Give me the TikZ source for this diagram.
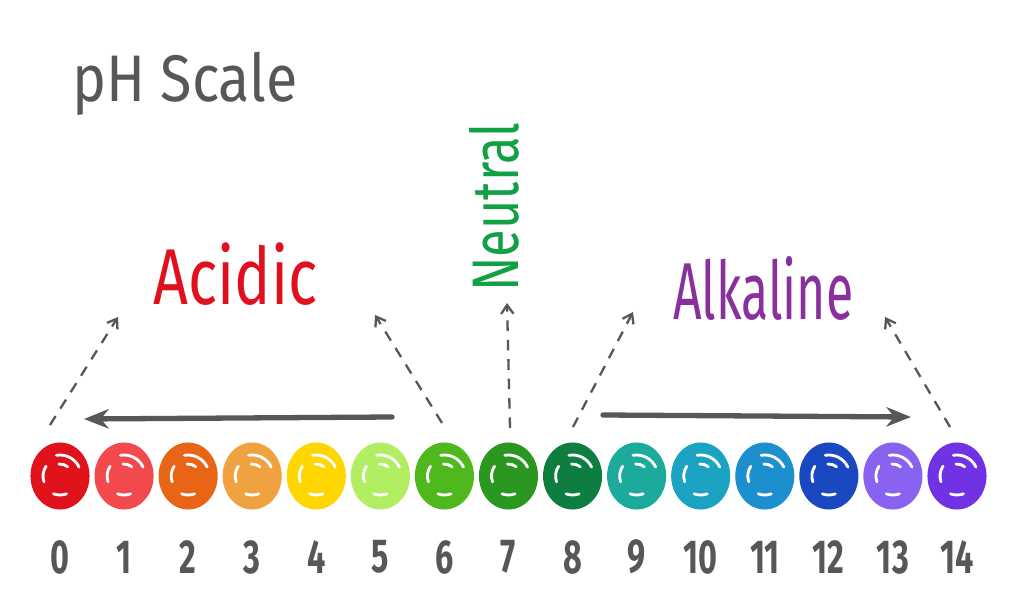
\documentclass[tikz,border=0pt]{standalone}
\usepackage{fontspec}
\setmainfont{Fira Sans}
\usetikzlibrary{arrows.meta,shapes.geometric}
\definecolor{ink}{HTML}{575757}
\definecolor{acid}{HTML}{E0101E}
\definecolor{alka}{HTML}{88309C}
\definecolor{neut}{HTML}{12A044}
\definecolor{ph0}{HTML}{E0121C}
\definecolor{ph1}{HTML}{F24A4C}
\definecolor{ph2}{HTML}{E86416}
\definecolor{ph3}{HTML}{F0A240}
\definecolor{ph4}{HTML}{FFD600}
\definecolor{ph5}{HTML}{B2EE62}
\definecolor{ph6}{HTML}{4EB81C}
\definecolor{ph7}{HTML}{2A9820}
\definecolor{ph8}{HTML}{0E7E40}
\definecolor{ph9}{HTML}{1CAA9C}
\definecolor{ph10}{HTML}{1CA2C2}
\definecolor{ph11}{HTML}{1C90CE}
\definecolor{ph12}{HTML}{1A48C0}
\definecolor{ph13}{HTML}{8A62F0}
\definecolor{ph14}{HTML}{7032E2}
\begin{document}
\begin{tikzpicture}[x=0.5669pt,y=-0.5669pt,
  drop/.style={ellipse, draw=none, minimum width=33.5pt, minimum height=38pt, inner sep=0pt},
  num/.style={text=ink, inner sep=0pt, font=\fontsize{27}{29}\selectfont\bfseries},
  shine/.style={white, line width=1.6pt, line cap=round},
  dasharrow/.style={ink, line width=1.3pt, dash pattern=on 6pt off 5pt, -{Straight Barb[length=5pt,width=7pt]}},
  bigarrow/.style={ink, line width=3pt, line cap=round, -{Stealth[length=14pt,width=11pt]}},
  label/.style={inner sep=0pt, anchor=base west}
]
\useasboundingbox (0,0) rectangle (1024,614);
\fill[white] (0,0) rectangle (1024,614);
% drops and numbers
\foreach \i in {0,...,14} {
  \node[drop, fill=ph\i] (c\i) at ({60+64.07*\i},476) {};
  \node[num] (n\i) at ({60+64.07*\i},557) {\scalebox{0.68}[1]{\i}};
  \draw[shine] (c\i.center) ++(-100:21) arc[start angle=-100, end angle=-25, radius=21];
  \draw[shine] (c\i.center) ++(-95:12) arc[start angle=-95, end angle=-50, radius=12];
  \draw[shine] (c\i.center) ++(160:17) arc[start angle=160, end angle=215, radius=17];
  \draw[shine] (c\i.center) ++(70:19) arc[start angle=70, end angle=110, radius=19];
}
% title and labels
\node[label, text=ink] (title) at (72,102) {\resizebox{127.6pt}{28pt}{pH Scale}};
\node[label, text=acid] (acidic) at (153,305) {\resizebox{93pt}{35pt}{Acidic}};
\node[label, text=alka] (alkaline) at (673,320) {\resizebox{102pt}{35.7pt}{Alkaline}};
\node[label, text=neut, rotate=90] (neutral) at (518,292) {\resizebox{96pt}{28pt}{Neutral}};
% arrow end points
\coordinate (a0s) at (50,425);   \coordinate (a0e) at (118,317);
\coordinate (a6s) at (442,423);  \coordinate (a6e) at (375,315);
\coordinate (a7s) at (510,428);  \coordinate (a7e) at (507,303);
\coordinate (a8s) at (573,427);  \coordinate (a8e) at (633,312);
\coordinate (a14s) at (950,427); \coordinate (a14e) at (885,317);
\coordinate (acS) at (392,417);  \coordinate (acE) at (84,419);
\coordinate (alS) at (603,415);  \coordinate (alE) at (911,417);
\draw[dasharrow] (a0s) -- (a0e);
\draw[dasharrow] (a6s) -- (a6e);
\draw[dasharrow] (a7s) -- (a7e);
\draw[dasharrow] (a8s) -- (a8e);
\draw[dasharrow] (a14s) -- (a14e);
\draw[bigarrow] (acS) -- (acE);
\draw[bigarrow] (alS) -- (alE);
\end{tikzpicture}
\end{document}
